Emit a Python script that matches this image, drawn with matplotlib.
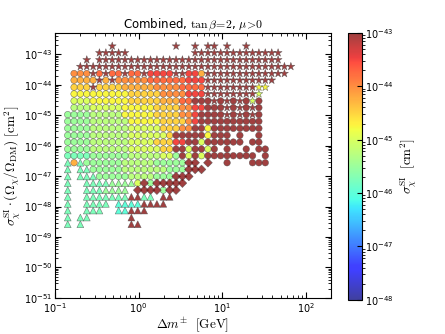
import numpy as np
import matplotlib
matplotlib.use("Agg")
import matplotlib.pyplot as plt
from matplotlib.colors import LogNorm

# grid of scan points
col_x = [0.142, 0.169, 0.201, 0.240, 0.286, 0.340, 0.406, 0.484, 0.577, 0.688,
         0.820, 0.977, 1.166, 1.390, 1.657, 1.976, 2.355, 2.808, 3.345, 3.99,
         4.75, 5.66, 6.76, 8.05, 9.60, 11.45, 13.6, 16.3, 19.4, 23.1,
         27.5, 32.8, 39.2, 46.7, 55.6, 66.4]
row_logy = [-42.73, -42.95, -43.18, -43.40, -43.63, -43.85, -44.08, -44.30, -44.53,
            -44.75, -44.98, -45.20, -45.43, -45.66, -45.88, -46.11, -46.33, -46.56,
            -46.78, -47.01, -47.23, -47.46, -47.68, -47.91, -48.13, -48.36, -48.58]

# run-length rows: count + shape (* star, o circle, D diamond, ^ triangle, . empty) + colour level
rows = [
    "7. 1*K 9. 1*K 2. 1*K 1. 2*K 1. 1*K 2. 1*K 7.",
    "5. 5*K 10. 14*K 2.",
    "3. 1*K 1. 29*K 2.",
    "2. 34*K",
    "1. 3oG 1*K 1oH 1*K 2oH 1*K 2oH 1*K 4oI 2*K 2oI 1oF 13*K 1.",
    "1. 4oF 1*K 1oF 1*K 5oG 6oH 3oI 11*K 3.",
    "1. 3oE 1*K 4oE 5oF 4oG 4oH 8*K 2*D 4.",
    "1. 9oD 5oE 4oG 3oI 8*K 1*C 5.",
    "1. 3oC 6oD 5oE 3oF 2oH 2oK 1oK 1*K 1oK 1*K 1oK 1*K 1oK 1*C 1oK 5.",
    "1. 3oB 5oC 5oD 4oE 2oG 2oI 2oK 1oK 1*K 1oK 1*K 1oK 1*K 1oK 5.",
    "4oA 5oB 5oD 4oE 2oG 1oI 3oK 1oK 1*K 1oK 1*K 1oK 1*K 1oK 5.",
    "4oA 6oB 5oD 4oE 1oG 1oI 10oK 5.",
    "4oA 6oB 5oC 3oE 2oG 2oK 1oD 8oK 5.",
    "4oA 6oB 6oC 1oE 5oK 1oD 3oK 1. 1oK 2. 1oK 5.",
    "4oA 6oB 4oC 3oE 2oI 2oK 1oC 6oK 1. 2oK 5.",
    "4oA 6oB 5oC 2oE 2oK 1oC 2oK 1oC 1oK 1. 1oK 2. 1oK 1. 2oK 4.",
    "4o9 6oA 5oB 2oC 1oA 1oK 1oC 1oK 1oC 8oK 1. 1oK 4.",
    "1^9 1oF 1^9 6oA 5oB 5oA 2DK 1. 1DK 2. 1oK 3. 3oK 4.",
    "1^9 1. 2^9 5oA 7oB 3oA 3DK 14.",
    "1^9 1. 3^9 5oA 4oB 3oA 3DK 16.",
    "1^9 2. 4^9 4^A 1oC 1DK 1oA 5DK 17.",
    "1^9 2. 3^9 4^A 1. 4DK 1oA 2DK 18.",
    "1^9 2. 7^9 2^K 2^9 1. 2^K 19.",
    "1^9 2. 4^9 1. 4^8 4^K 20.",
    "1^9 2. 3^9 2. 2^8 3^K 23.",
    "1^9 1. 2^9 6. 1^K 25.",
    "1^9 1. 1^9 7. 2^K 24.",
]
levels = "0123456789ABCDEFGHIJK"   # log10(sigma) = -48 + 0.25*index

pts = {"o": ([], [], []), "*": ([], [], []), "D": ([], [], []), "^": ([], [], [])}
for r, row in enumerate(rows):
    k = 0
    for tok in row.split():
        i = 0
        while tok[i].isdigit():
            i += 1
        n = int(tok[:i])
        shape = tok[i]
        if shape != ".":
            lev = -48 + 0.25 * levels.index(tok[i + 1])
            for j in range(n):
                pts[shape][0].append(col_x[k + j])
                pts[shape][1].append(10 ** row_logy[r])
                pts[shape][2].append(10 ** lev)
        k += n

fig = plt.figure(figsize=(4.45, 3.34), dpi=100)
ax = fig.add_axes([0.1236, 0.108, 0.620, 0.793])
norm = LogNorm(1e-48, 1e-43)
sizes = {"o": 22, "*": 36, "D": 20, "^": 24}
sc = None
for m in ["o", "D", "^", "*"]:
    x, y, c = pts[m]
    sc = ax.scatter(x, y, c=c, s=sizes[m], marker=m, cmap="jet", norm=norm,
                    alpha=0.75, edgecolors="0.3", linewidths=0.4, zorder=3)

ax.set_xscale("log")
ax.set_yscale("log")
ax.set_xlim(0.1, 200)
ax.set_ylim(1e-51, 5e-43)
ax.set_yticks([10.0 ** e for e in range(-51, -42)])
ax.tick_params(which="both", direction="in", top=True, right=True, labelsize=7, pad=2)
ax.tick_params(which="major", length=4)
ax.tick_params(which="minor", length=2)

ax.set_xlabel(r"$\Delta m^{\pm}\ \ [{\rm GeV}]$", fontsize=9.5, math_fontfamily="cm",
              labelpad=1)
ax.set_ylabel(r"$\sigma_\chi^{\rm SI}\cdot(\Omega_\chi/\Omega_{\rm DM})\ [{\rm cm}^2]$",
              fontsize=9.5, math_fontfamily="cm")
ax.yaxis.set_label_coords(-0.115, 0.5)
ax.set_title(r"Combined, $\tan\beta\!=\!2$, $\mu\!>\!0$", fontsize=8.5,
             math_fontfamily="cm", pad=3)

cax = fig.add_axes([0.782, 0.102, 0.031, 0.800])
cb = fig.colorbar(sc, cax=cax)
cb.ax.tick_params(labelsize=7, direction="in", pad=2)
cb.set_label(r"$\sigma_\chi^{\rm SI}\ \ [{\rm cm}^2]$", fontsize=9.5, math_fontfamily="cm",
             labelpad=4)

fig.savefig("out.png", dpi=100)
